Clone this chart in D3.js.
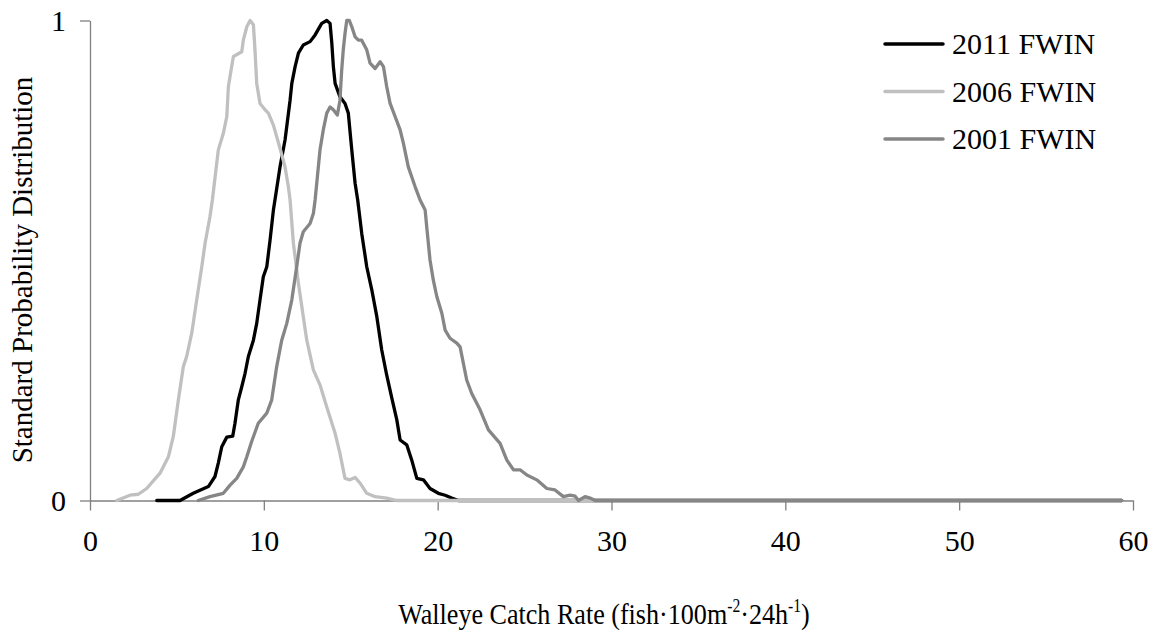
<!DOCTYPE html>
<html>
<head>
<meta charset="utf-8">
<script src="https://cdn.jsdelivr.net/npm/d3@7"></script>
<style>
  body { margin: 0; background: #fff; }
  text { font-family: "Liberation Serif", "Times New Roman", serif; fill: #000; }
</style>
</head>
<body>
<div id="chart"></div>
<script>
// x values (catch rate) and standardised probabilities
let x2011 = [3.84, 5.18, 5.94, 6.81, 7.19, 7.38, 7.58, 7.87, 8.21, 8.34, 8.53, 8.73, 8.92, 9.11, 9.40, 9.59, 9.78, 9.97, 10.17, 10.36, 10.55, 10.64, 10.93, 11.22, 11.51, 11.61, 11.80, 11.99, 12.27, 12.66, 12.95, 13.33, 13.62, 13.81, 13.91, 14.00, 14.10, 14.38, 14.67, 14.86, 15.06, 15.25, 15.40, 15.63, 15.92, 16.21, 16.50, 16.78, 17.07, 17.36, 17.65, 17.84, 18.22, 18.51, 18.80, 19.18, 19.56, 20.04, 20.43, 20.81, 21.19, 59.35];
let y2011 = [0, 0, 0.015, 0.029, 0.050, 0.078, 0.112, 0.132, 0.134, 0.161, 0.209, 0.237, 0.265, 0.300, 0.334, 0.369, 0.418, 0.466, 0.487, 0.543, 0.605, 0.626, 0.695, 0.751, 0.834, 0.869, 0.904, 0.932, 0.949, 0.956, 0.970, 0.994, 1.0, 0.994, 0.953, 0.904, 0.869, 0.841, 0.827, 0.807, 0.730, 0.661, 0.626, 0.557, 0.487, 0.439, 0.383, 0.314, 0.261, 0.214, 0.168, 0.126, 0.116, 0.084, 0.046, 0.043, 0.025, 0.015, 0.011, 0.005, 0, 0];

let x2006 = [1.54, 2.30, 2.78, 3.26, 4.03, 4.51, 4.79, 5.08, 5.37, 5.56, 5.85, 6.14, 6.43, 6.62, 6.90, 7.04, 7.38, 7.67, 7.87, 7.96, 8.15, 8.25, 8.73, 8.82, 9.02, 9.21, 9.40, 9.49, 9.59, 9.78, 10.07, 10.26, 10.55, 10.93, 11.22, 11.41, 11.51, 11.70, 11.99, 12.27, 12.47, 12.85, 13.23, 13.62, 14.10, 14.38, 14.67, 14.96, 15.25, 15.54, 15.92, 16.40, 17.07, 17.65, 59.35];
let y2006 = [0, 0.011, 0.013, 0.025, 0.057, 0.091, 0.133, 0.209, 0.279, 0.300, 0.348, 0.418, 0.487, 0.536, 0.591, 0.626, 0.730, 0.765, 0.800, 0.862, 0.904, 0.925, 0.935, 0.959, 0.987, 1.0, 0.991, 0.939, 0.869, 0.827, 0.814, 0.807, 0.782, 0.734, 0.695, 0.654, 0.626, 0.536, 0.452, 0.383, 0.334, 0.272, 0.241, 0.195, 0.140, 0.098, 0.046, 0.043, 0.048, 0.036, 0.015, 0.008, 0.005, 0, 0];

let x2001 = [6.23, 6.90, 7.67, 8.06, 8.44, 8.82, 9.02, 9.30, 9.68, 10.17, 10.45, 10.74, 11.03, 11.32, 11.61, 11.89, 12.08, 12.27, 12.66, 12.85, 12.95, 13.23, 13.42, 13.62, 13.81, 14.00, 14.23, 14.38, 14.48, 14.57, 14.67, 14.77, 14.92, 15.06, 15.25, 15.44, 15.63, 15.92, 16.11, 16.40, 16.69, 16.88, 17.07, 17.26, 17.55, 17.84, 18.03, 18.31, 18.70, 18.99, 19.28, 19.37, 19.56, 19.75, 19.95, 20.24, 20.43, 20.71, 21.10, 21.29, 21.67, 21.96, 22.44, 22.92, 23.59, 23.98, 24.36, 24.74, 25.13, 25.70, 26.28, 26.75, 27.23, 27.62, 27.91, 28.10, 28.48, 28.77, 29.06, 59.35];
let y2001 = [0, 0.008, 0.015, 0.032, 0.046, 0.070, 0.091, 0.123, 0.161, 0.182, 0.209, 0.279, 0.334, 0.369, 0.418, 0.487, 0.536, 0.560, 0.577, 0.598, 0.626, 0.730, 0.772, 0.807, 0.820, 0.814, 0.803, 0.834, 0.897, 0.939, 0.973, 1.0, 1.0, 0.987, 0.966, 0.959, 0.959, 0.939, 0.911, 0.900, 0.914, 0.904, 0.862, 0.828, 0.800, 0.772, 0.744, 0.695, 0.654, 0.626, 0.605, 0.570, 0.501, 0.459, 0.425, 0.390, 0.355, 0.338, 0.328, 0.320, 0.251, 0.223, 0.189, 0.147, 0.119, 0.084, 0.064, 0.064, 0.053, 0.043, 0.025, 0.022, 0.008, 0.011, 0.009, 0, 0.008, 0.005, 0, 0];

let seriesNames = ["2011 FWIN", "2006 FWIN", "2001 FWIN"];
let seriesColors = ["#000000", "#c0c0c0", "#868686"];
let xTicks = [0, 10, 20, 30, 40, 50, 60];
let yTicks = [0, 1];

let widthh = 1158, heightt = 632;

let svg = d3.select("#chart").append("svg")
  .attr("width", widthh)
  .attr("height", heightt);

let xScale = d3.scaleLinear().domain([0, 60]).range([90, 1133]);
let yScale = d3.scaleLinear().domain([0, 1]).range([500.5, 20.5]);

// axes
let xAxis = svg.append("g")
  .attr("transform", `translate(0, ${yScale(0)})`)
  .call(d3.axisBottom(xScale).tickValues(xTicks).tickSize(10).tickSizeOuter(0).tickPadding(19));
xAxis.select(".domain").attr("stroke", "#808080").attr("stroke-width", 1.3);
xAxis.selectAll(".tick line").attr("stroke", "#808080").attr("stroke-width", 1.3);
xAxis.selectAll(".tick text").attr("font-size", "30px");

let yAxis = svg.append("g")
  .attr("transform", `translate(${xScale(0)}, 0)`)
  .call(d3.axisLeft(yScale).tickValues(yTicks).tickFormat(d3.format("d")).tickSize(10).tickSizeOuter(0).tickPadding(14));
yAxis.select(".domain").attr("stroke", "#808080").attr("stroke-width", 1.3);
yAxis.selectAll(".tick line").attr("stroke", "#808080").attr("stroke-width", 1.3);
yAxis.selectAll(".tick text").attr("font-size", "30px");

// lines, first series at the bottom
let allX = [x2011, x2006, x2001];
let allY = [y2011, y2006, y2001];

let lineGen = d3.line()
  .x(d => xScale(d[0]))
  .y(d => yScale(d[1]));

seriesNames.forEach((name, i) => {
  let pts = allX[i].map((v, j) => [v, allY[i][j]]);
  svg.append("path")
    .datum(pts)
    .attr("fill", "none")
    .attr("stroke", seriesColors[i])
    .attr("stroke-width", 3.3)
    .attr("stroke-linejoin", "round")
    .attr("stroke-linecap", "round")
    .attr("d", lineGen);
});

// legend
let legend = svg.append("g").attr("transform", "translate(885, 44)");
seriesNames.forEach((name, i) => {
  let row = legend.append("g").attr("transform", `translate(0, ${i * 47.5})`);
  row.append("line")
    .attr("x1", 0).attr("x2", 58)
    .attr("stroke", seriesColors[i])
    .attr("stroke-width", 3.5)
    .attr("stroke-linecap", "round");
  row.append("text")
    .attr("x", 67)
    .attr("dy", "0.34em")
    .attr("font-size", "30px")
    .text(name);
});

// axis titles
svg.append("text")
  .attr("transform", "translate(32, 270) rotate(-90)")
  .attr("text-anchor", "middle")
  .attr("font-size", "29px")
  .text("Standard Probability Distribution");

let xt = svg.append("text")
  .attr("transform", "translate(604, 624) scale(0.87, 1)")
  .attr("text-anchor", "middle")
  .attr("font-size", "30px");
xt.append("tspan").text("Walleye Catch Rate (fish\u00b7100m");
xt.append("tspan").attr("font-size", "18px").attr("dy", -12).text("-2");
xt.append("tspan").attr("dy", 12).text("\u00b724h");
xt.append("tspan").attr("font-size", "18px").attr("dy", -12).text("-1");
xt.append("tspan").attr("dy", 12).text(")");
</script>
</body>
</html>
